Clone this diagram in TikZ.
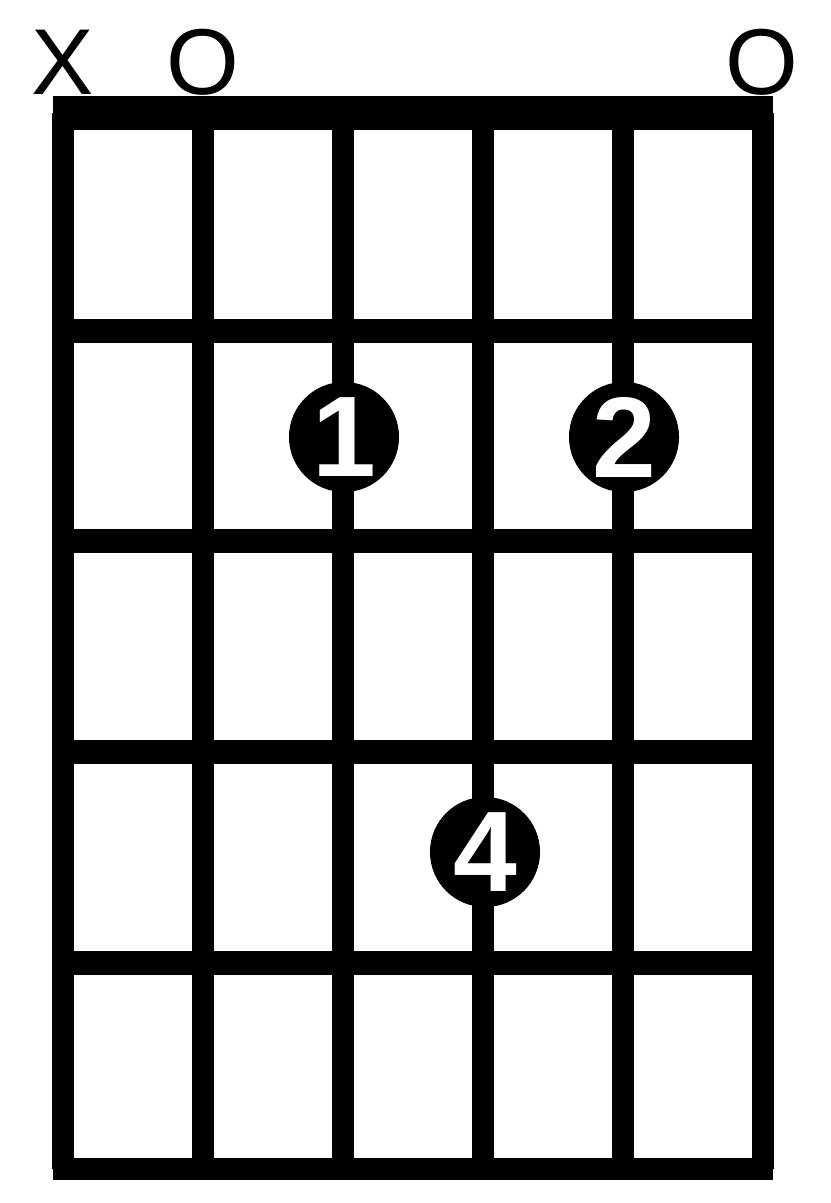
\documentclass[tikz,border=0pt]{standalone}
\usepackage{fontspec}
\setmainfont{Liberation Sans}
\begin{document}
\begin{tikzpicture}[x=0.01cm, y=-0.01cm,
		string/.style={line width=6pt},
		fret/.style={line width=6.8pt},
		finger/.style={circle, fill=black, inner sep=0pt, minimum size=1.1cm,
			text=white, font=\fontsize{32.6}{32.6}\selectfont\bfseries},
		mute/.style={anchor=base, inner sep=0pt, font=\fontsize{26.6}{26.6}\selectfont}]
		\useasboundingbox (0, 0) rectangle (831, 1203);

		% Strings
		\foreach \x in {63, 203, 343, 483, 623, 763}
			\draw[string] (\x, 113) -- (\x, 1169);

		% Frets
		\foreach \y in {331, 541, 752, 963}
			\draw[fret] (53, \y) -- (773, \y);

		% Nut and bottom
		\fill[black] (53, 96) rectangle (773, 130);
		\fill[black] (53, 1158) rectangle (773, 1180);

		% Open and muted strings
		\node[mute] (s6) at (63, 94) {X};
		\node[mute] (s5) at (203, 94) {O};
		\node[mute] (s1) at (762, 94) {O};

		% Fingers
		\node[finger] (f1) at (344, 437) {1};
		\node[finger] (f2) at (624, 437) {2};
		\node[finger] (f4) at (485, 852) {4};
	\end{tikzpicture}
\end{document}
